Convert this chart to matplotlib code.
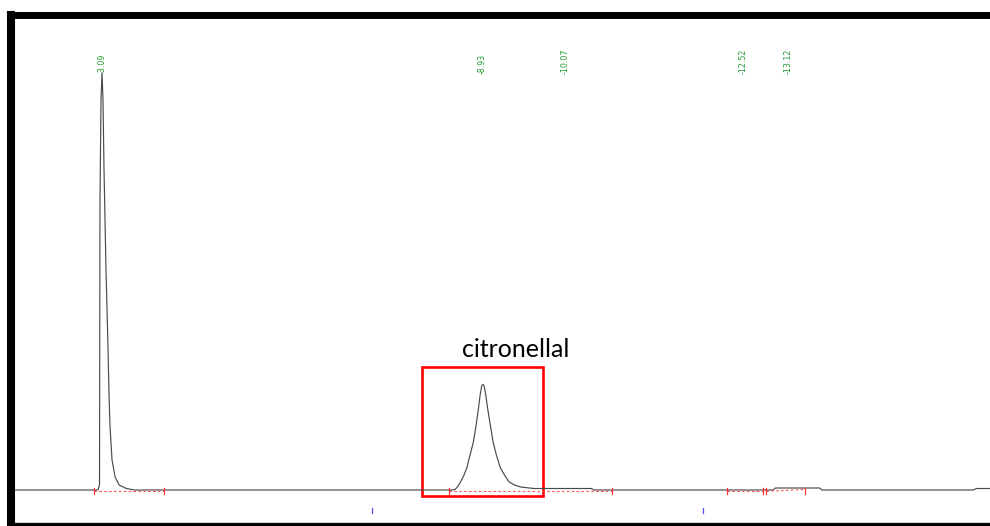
"""Chromatogram with the citronellal peak boxed (matplotlib, Agg)."""
import matplotlib

matplotlib.use("Agg")
import matplotlib.pyplot as plt  # noqa: E402
from matplotlib.patches import Rectangle  # noqa: E402

# detector trace: retention time (min) vs signal (a.u.)
trace_t = [1.87, 3.141, 3.163, 3.170, 3.185, 3.200, 3.214, 3.229, 3.258, 3.288,
           3.302, 3.317, 3.346, 3.391, 3.450, 3.556, 3.673,
           8.318, 8.362, 8.399, 8.447, 8.495, 8.536, 8.584, 8.633, 8.673,
           8.707, 8.731, 8.754, 8.772, 8.790, 8.814, 8.840, 8.880, 8.920,
           8.969, 9.028, 9.087, 9.151, 9.235, 9.324, 9.518, 10.36, 10.39,
           13.02, 13.05, 13.70, 13.73, 15.95, 15.99, 16.36]
trace_y = [0, 0, 5, 290, 390, 417, 390, 320, 220, 140,
           95, 63, 30, 13, 5, 1.5, 0,
           0, 0.5, 3, 8.3, 15, 22, 35, 48.3, 65,
           82, 95, 104, 105.7, 104, 95, 82, 65, 48.3,
           35, 22, 15, 8.3, 5, 3, 1.5, 1.5, 0,
           0, 2, 2, 0, 0, 1.5, 1.5]

# peak labels printed by the software and where they sit
peak_labels = ["-3.09", "-8.93", "-10.07", "-12.52", "-13.12"]
label_t = [3.20, 8.76, 9.97, 12.58, 13.23]

# integration baselines (start, end) and their end markers
base_start = [3.081, 8.274, 12.342, 12.920]
base_end = [4.102, 10.656, 12.875, 13.482]
base_y0 = [0, 0, 0, 0]
base_y1 = [0, 0, 0, 2]
blue_ticks = [7.150, 11.986]

box_t = (7.875, 9.650)
box_y = (-5.7, 123.3)

fig = plt.figure(figsize=(9.9, 5.26), dpi=100)
ax = fig.add_axes([0.0111, -0.00095, 1.0, 0.97338])
ax.set_xlim(1.868, 16.351)
ax.set_ylim(-36.5, 475.5)

# frame: heavy black on top/left/bottom, open on the right
ax.spines["right"].set_visible(False)
ax.spines["left"].set_linewidth(5.8)
ax.spines["top"].set_linewidth(5.0)
ax.spines["bottom"].set_linewidth(5.0)
ax.set_xticks([])
ax.set_yticks([])
ax.axhline(-32, color="#d4d4d4", lw=0.8)

ax.plot(trace_t, trace_y, color="#4a4a4a", lw=0.85, solid_joinstyle="round")

for t0, t1, y0, y1 in zip(base_start, base_end, base_y0, base_y1):
    ax.plot([t0, t1], [y0 - 1.4, y1 - 1.4], color="#ff5050", lw=0.8,
            dashes=(2.2, 2.2))
    for t in (t0, t1):
        ax.plot([t, t], [1.5, -4], color="#ff3030", lw=0.9)

for t in blue_ticks:
    ax.plot([t, t], [-18, -23], color="#5050ff", lw=0.9)

for txt, t in zip(peak_labels, label_t):
    ax.text(t, 416, txt, rotation=90, ha="center", va="bottom",
            color="#1f9a2f", fontsize=5.7)

ax.add_patch(Rectangle((box_t[0], box_y[0]), box_t[1] - box_t[0],
                       box_y[1] - box_y[0], fill=False, ec="red", lw=1.9))
ax.text(9.25, 133, "citronellal", ha="center", va="baseline",
        fontsize=18, family=["Lato", "DejaVu Sans"], color="black")

fig.savefig("out.png", dpi=100, facecolor="white")
plt.close(fig)
